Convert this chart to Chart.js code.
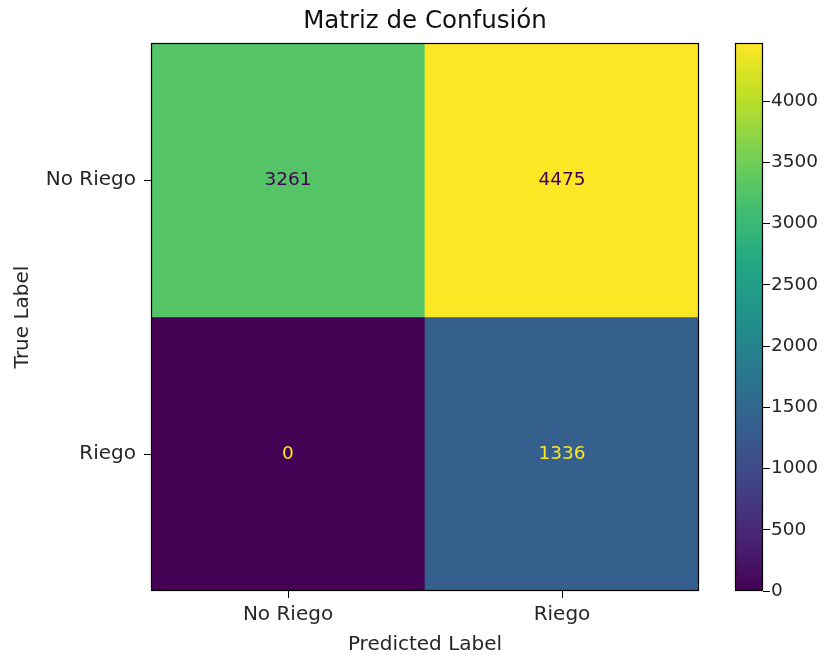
<!DOCTYPE html>
<html>
<head>
<meta charset="utf-8">
<script src="https://cdn.jsdelivr.net/npm/chart.js@4.4.1/dist/chart.umd.min.js"></script>
<style>
  html, body { margin: 0; padding: 0; background: #fff; }
  #wrap { position: relative; width: 832px; height: 655px; }
  #wrap canvas { position: absolute; top: 0; }
  #matrix { left: 0; }
  #cbar { left: 700px; }
</style>
</head>
<body>
<div id="wrap">
  <canvas id="matrix" width="832" height="655"></canvas>
  <canvas id="cbar" width="132" height="655"></canvas>
</div>
<script>
// Class names (rows = true label, columns = predicted label)
const trueLabels = ['No Riego', 'Riego'];
const predictedLabels = ['No Riego', 'Riego'];

// Counts per true-label row
const rowNoRiego = [3261, 4475];
const rowRiego = [0, 1336];

// Colorbar tick values
const colorbarTicks = [0, 500, 1000, 1500, 2000, 2500, 3000, 3500, 4000];

// Viridis colormap stops
const viridisStops = ['#440154', '#482475', '#414487', '#355f8d', '#2a788e',
                      '#21918c', '#22a884', '#44bf70', '#7ad151', '#bddf26', '#fde725'];

const rows = [rowNoRiego, rowRiego];
const allCounts = rows.flat();
const cmin = Math.min(...allCounts);
const cmax = Math.max(...allCounts);
const thresh = (cmin + cmax) / 2;

function hexToRgb(h) {
  return [parseInt(h.slice(1, 3), 16), parseInt(h.slice(3, 5), 16), parseInt(h.slice(5, 7), 16)];
}
function viridis(t) {
  t = Math.max(0, Math.min(1, t));
  const n = viridisStops.length - 1;
  const i = Math.min(n - 1, Math.floor(t * n));
  const f = t * n - i;
  const a = hexToRgb(viridisStops[i]), b = hexToRgb(viridisStops[i + 1]);
  const c = a.map((v, k) => Math.round(v + (b[k] - v) * f));
  return `rgb(${c[0]},${c[1]},${c[2]})`;
}
const norm = v => (v - cmin) / (cmax - cmin);

const FONT = 'DejaVu Sans';
const TEXT = '#262626';
const numFont = { family: FONT, size: 18.5 };
const wordFont = { family: FONT, size: 20 };
const titleFont = { family: FONT, size: 24.5, weight: 'normal', lineHeight: 1.2 };

// Black frame around the plotting area
const framePlugin = {
  id: 'frame',
  afterDraw(chart) {
    const { ctx, chartArea: a } = chart;
    ctx.save();
    ctx.strokeStyle = '#000';
    ctx.lineWidth = 1.2;
    ctx.strokeRect(Math.round(a.left) + 0.5, Math.round(a.top) + 0.5,
                   Math.round(a.right - a.left) - 1, Math.round(a.bottom - a.top) - 1);
    ctx.restore();
  }
};

// Count written in the middle of each cell
const cellTextPlugin = {
  id: 'cellText',
  afterDatasetsDraw(chart) {
    const ctx = chart.ctx;
    ctx.save();
    ctx.font = `${numFont.size}px "${FONT}"`;
    ctx.textAlign = 'center';
    ctx.textBaseline = 'middle';
    chart.data.datasets.forEach((ds, di) => {
      const meta = chart.getDatasetMeta(di);
      meta.data.forEach((bar, j) => {
        const v = ds.counts[j];
        ctx.fillStyle = v < thresh ? viridis(1) : viridis(0);
        ctx.fillText(String(v), bar.x, (bar.y + bar.base) / 2);
      });
    });
    ctx.restore();
  }
};

const nRows = trueLabels.length;
const datasets = rows.map((counts, i) => ({
  label: trueLabels[i],
  counts: counts,
  data: counts.map(() => [nRows - 1 - i, nRows - i]),
  backgroundColor: counts.map(v => viridis(norm(v))),
  borderWidth: 0,
  barPercentage: 1,
  categoryPercentage: 1,
  grouped: false
}));

new Chart(document.getElementById('matrix'), {
  type: 'bar',
  data: { labels: predictedLabels, datasets },
  options: {
    responsive: false,
    animation: false,
    layout: { padding: { left: 0, right: 133, top: 0, bottom: 0 } },
    plugins: {
      legend: { display: false },
      tooltip: { enabled: false }
    },
    scales: {
      // top axis only carries the chart title, centred over the matrix
      top: {
        type: 'category',
        position: 'top',
        afterFit: s => { s.height = 43; },
        grid: { display: false },
        border: { display: false },
        ticks: { display: false },
        title: { display: true, text: 'Matriz de Confusión', color: '#111', font: titleFont, padding: { top: 7, bottom: 0 } }
      },
      x: {
        afterFit: s => { s.height = 64; },
        grid: { display: true, drawOnChartArea: false, drawTicks: true, tickLength: 7, offset: false, color: '#000' },
        border: { display: false },
        ticks: { font: wordFont, color: TEXT, padding: 5, maxRotation: 0 },
        title: { display: true, text: 'Predicted Label', font: wordFont, color: TEXT, padding: { top: 0, bottom: -2 } }
      },
      y: {
        min: 0,
        max: nRows,
        afterFit: s => { s.width = 151; },
        afterBuildTicks: s => { s.ticks = trueLabels.map((_, i) => ({ value: nRows - 1 - i + 0.5 })).reverse(); },
        grid: { display: true, drawOnChartArea: false, drawTicks: true, tickLength: 7, color: '#000' },
        border: { display: false },
        ticks: {
          font: wordFont, color: TEXT, padding: 8,
          callback: v => trueLabels[nRows - 1 - Math.floor(v)]
        },
        title: { display: true, text: 'True Label', font: wordFont, color: TEXT, padding: { top: 11, bottom: 0 } }
      }
    }
  },
  plugins: [cellTextPlugin, framePlugin]
});

// Colorbar: one floating bar spanning the full count range, filled with the colormap
function colorbarFill(context) {
  const chart = context.chart;
  const ys = chart.scales.y;
  if (!chart.chartArea || !ys) return viridis(0.5);
  const g = chart.ctx.createLinearGradient(0, ys.getPixelForValue(cmin), 0, ys.getPixelForValue(cmax));
  viridisStops.forEach((c, i) => g.addColorStop(i / (viridisStops.length - 1), c));
  return g;
}

new Chart(document.getElementById('cbar'), {
  type: 'bar',
  data: {
    labels: [''],
    datasets: [{
      data: [[cmin, cmax]],
      backgroundColor: colorbarFill,
      borderWidth: 0,
      barPercentage: 1,
      categoryPercentage: 1
    }]
  },
  options: {
    responsive: false,
    animation: false,
    layout: { padding: { left: 35, right: 0, top: 43, bottom: 64 } },
    plugins: { legend: { display: false }, tooltip: { enabled: false } },
    scales: {
      x: { display: false },
      y: {
        position: 'right',
        min: cmin,
        max: cmax,
        afterFit: s => { s.width = 69; },
        afterBuildTicks: s => { s.ticks = colorbarTicks.map(v => ({ value: v })); },
        grid: { display: true, drawOnChartArea: false, drawTicks: true, tickLength: 7, color: '#000' },
        border: { display: false },
        ticks: { font: numFont, color: TEXT, padding: 1, callback: v => String(v) }
      }
    }
  },
  plugins: [framePlugin]
});
</script>
</body>
</html>
